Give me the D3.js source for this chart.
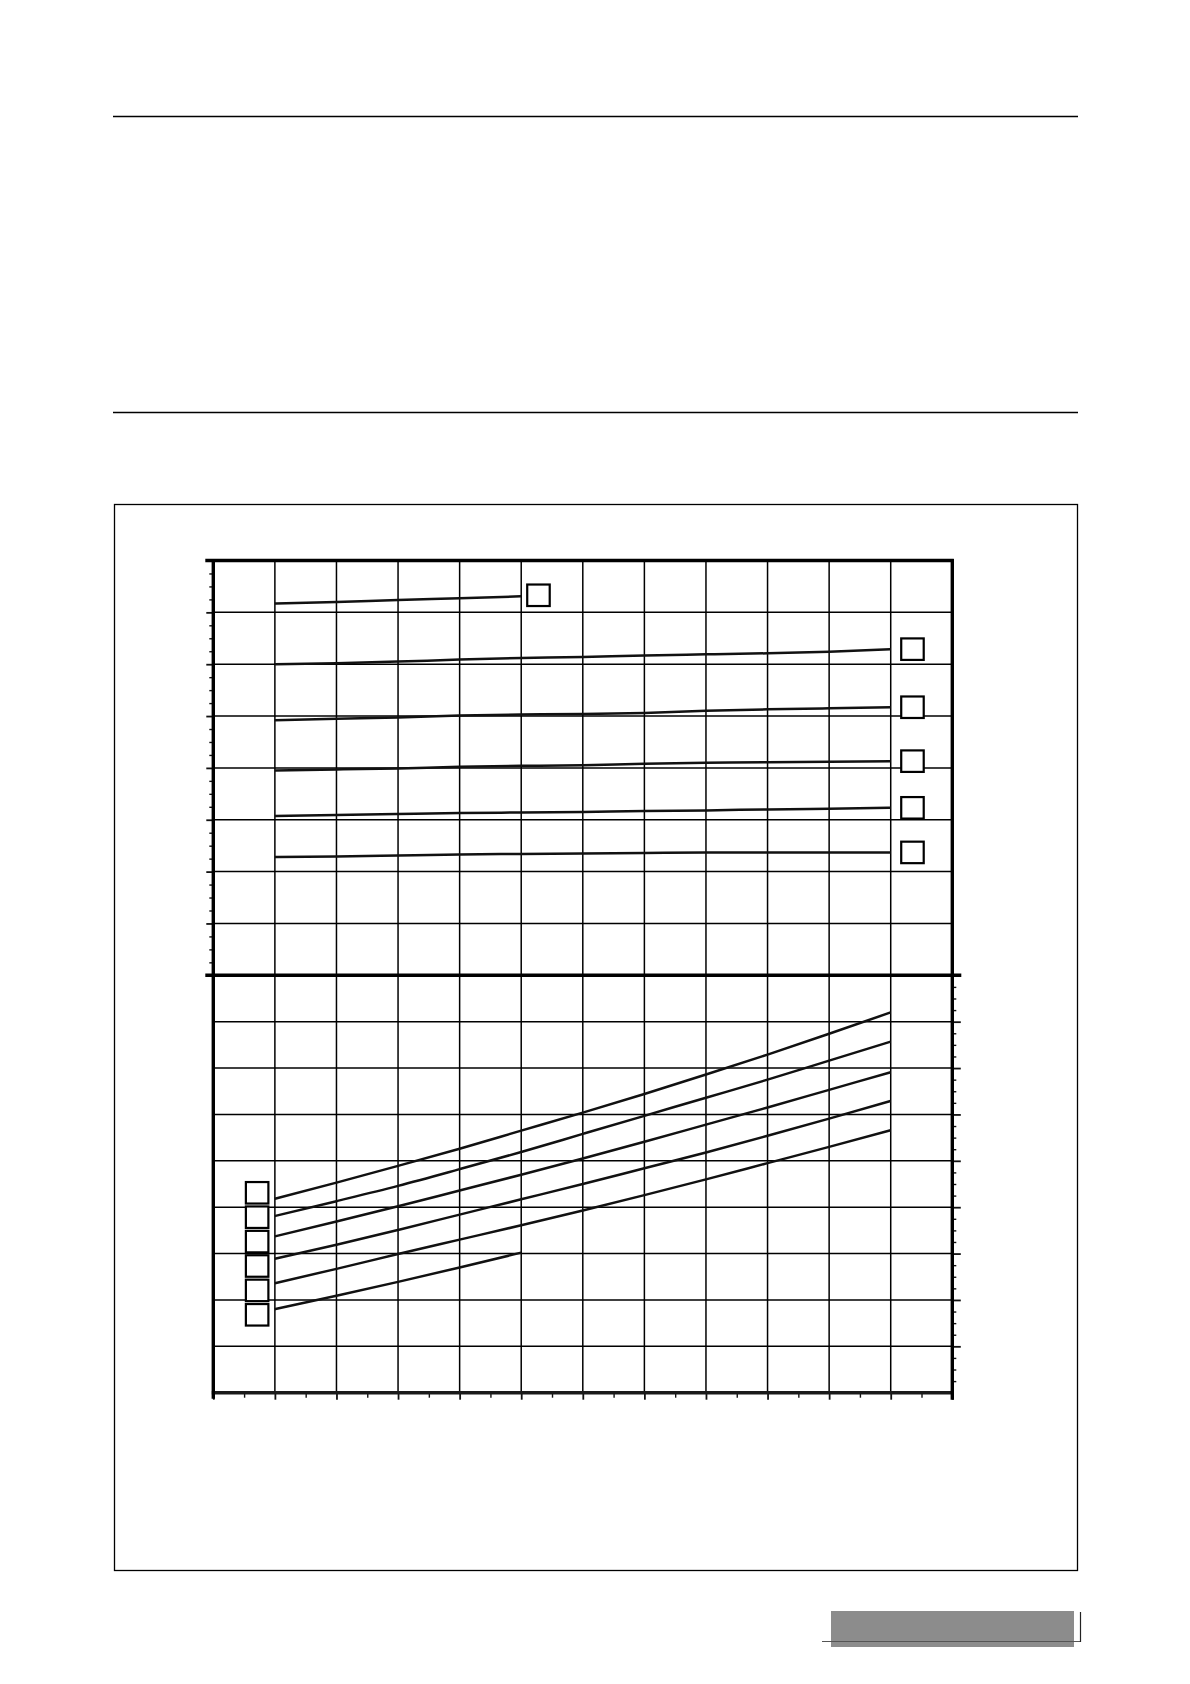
<!DOCTYPE html>
<html>
<head>
<meta charset="utf-8">
<script src="https://cdn.jsdelivr.net/npm/d3@7"></script>
<style>
  body { margin: 0; background: #fff; }
</style>
</head>
<body>
<div id="chart"></div>
<script>
// Page size
var pageWidth = 1190;
var pageHeight = 1684;

// x positions of the points (one per vertical gridline)
var xVals = [1, 2, 3, 4, 5, 6, 7, 8, 9, 10, 11];

// Upper panel curves (short one stops half way)
var upper1 = [71.7, 72.0, 72.4, 72.7, 73.1];
var upper2 = [60.0, 60.2, 60.5, 60.9, 61.2, 61.4, 61.7, 61.9, 62.1, 62.4, 62.9];
var upper3 = [49.2, 49.5, 49.7, 50.1, 50.3, 50.4, 50.6, 51.0, 51.3, 51.5, 51.7];
var upper4 = [39.5, 39.7, 39.9, 40.2, 40.4, 40.5, 40.8, 41.0, 41.1, 41.2, 41.3];
var upper5 = [30.7, 30.9, 31.1, 31.3, 31.4, 31.5, 31.7, 31.8, 32.0, 32.1, 32.3];
var upper6 = [22.8, 22.9, 23.1, 23.3, 23.4, 23.5, 23.6, 23.7, 23.7, 23.7, 23.7];

// Lower panel curves
var lower1 = [41.8, 45.3, 48.9, 52.6, 56.5, 60.4, 64.4, 68.6, 72.9, 77.4, 82.0];
var lower2 = [38.1, 41.3, 44.6, 48.2, 51.9, 55.8, 59.7, 63.6, 67.5, 71.6, 75.7];
var lower3 = [33.7, 36.9, 40.2, 43.6, 47.0, 50.5, 54.1, 57.8, 61.5, 65.3, 69.1];
var lower4 = [28.9, 31.9, 35.1, 38.4, 41.7, 45.0, 48.4, 51.8, 55.4, 59.1, 62.9];
var lower5 = [23.6, 26.7, 29.9, 33.0, 36.1, 39.3, 42.6, 46.0, 49.5, 53.0, 56.6];
var lower6 = [18.0, 20.9, 23.9, 27.0, 30.2];

var upperSeries = [upper1, upper2, upper3, upper4, upper5, upper6];
var lowerSeries = [lower1, lower2, lower3, lower4, lower5, lower6];

// Axis domains
var xDomain = [0, 12];
var upperDomain = [0, 80];
var lowerDomain = [0, 90];

var svg = d3.select("#chart")
    .append("svg")
    .attr("width", pageWidth)
    .attr("height", pageHeight);

// Page furniture: two rules, the frame and the footer tab
svg.append("line")
    .attr("x1", 113).attr("x2", 1078)
    .attr("y1", 116.5).attr("y2", 116.5)
    .attr("stroke", "#000").attr("stroke-width", 1.4);
svg.append("line")
    .attr("x1", 113).attr("x2", 1078)
    .attr("y1", 412.5).attr("y2", 412.5)
    .attr("stroke", "#000").attr("stroke-width", 1.4);
svg.append("rect")
    .attr("x", 114.5).attr("y", 504.5)
    .attr("width", 963).attr("height", 1066)
    .attr("fill", "none").attr("stroke", "#000").attr("stroke-width", 1.3);

svg.append("rect")
    .attr("x", 831).attr("y", 1611)
    .attr("width", 243).attr("height", 36)
    .attr("fill", "#8c8c8c");
svg.append("line")
    .attr("x1", 822).attr("x2", 1080.5)
    .attr("y1", 1641.5).attr("y2", 1641.5)
    .attr("stroke", "#555").attr("stroke-width", 1);
svg.append("line")
    .attr("x1", 1080.5).attr("x2", 1080.5)
    .attr("y1", 1612).attr("y2", 1642)
    .attr("stroke", "#222").attr("stroke-width", 1.2);

// Scales
var x = d3.scaleLinear().domain(xDomain).range([213.3, 952.3]);
var yUp = d3.scaleLinear().domain(upperDomain).range([975.3, 560.5]);
var yLo = d3.scaleLinear().domain(lowerDomain).range([1392.7, 975.3]);

var chart = svg.append("g");

// Gridlines
var gridX = d3.range(1, 12);
chart.selectAll(".vgrid")
    .data(gridX)
    .enter()
    .append("line")
    .attr("x1", d => x(d)).attr("x2", d => x(d))
    .attr("y1", yUp(80)).attr("y2", yLo(0))
    .attr("stroke", "#000").attr("stroke-width", 1.5);

chart.selectAll(".hgridUp")
    .data(d3.range(10, 80, 10))
    .enter()
    .append("line")
    .attr("x1", x(0)).attr("x2", x(12))
    .attr("y1", d => yUp(d)).attr("y2", d => yUp(d))
    .attr("stroke", "#000").attr("stroke-width", 1.5);

chart.selectAll(".hgridLo")
    .data(d3.range(10, 90, 10))
    .enter()
    .append("line")
    .attr("x1", x(0)).attr("x2", x(12))
    .attr("y1", d => yLo(d)).attr("y2", d => yLo(d))
    .attr("stroke", "#000").attr("stroke-width", 1.5);

// Left axis ticks (upper panel only)
var leftMinor = d3.axisLeft(yUp)
    .tickValues(d3.range(0, 80.1, 2.5).filter(v => v % 10 !== 0))
    .tickSize(4).tickFormat("");
var leftMajor = d3.axisLeft(yUp)
    .tickValues(d3.range(10, 80, 10))
    .tickSize(7).tickFormat("");
chart.append("g").attr("transform", `translate(${x(0)},0)`).call(leftMinor);
chart.append("g").attr("class", "major").attr("transform", `translate(${x(0)},0)`).call(leftMajor);

// Right axis ticks (lower panel only)
var rightMinor = d3.axisRight(yLo)
    .tickValues(d3.range(0, 90.1, 2.5).filter(v => v % 10 !== 0))
    .tickSize(4).tickFormat("");
var rightMajor = d3.axisRight(yLo)
    .tickValues(d3.range(10, 90, 10))
    .tickSize(8.5).tickFormat("");
chart.append("g").attr("transform", `translate(${x(12)},0)`).call(rightMinor);
chart.append("g").attr("class", "major").attr("transform", `translate(${x(12)},0)`).call(rightMajor);

// Bottom axis ticks
var bottomMinor = d3.axisBottom(x)
    .tickValues(d3.range(0.5, 12, 1))
    .tickSize(5).tickFormat("");
var bottomMajor = d3.axisBottom(x)
    .tickValues(d3.range(0, 13, 1))
    .tickSize(7).tickFormat("");
chart.append("g").attr("transform", `translate(0,${yLo(0)})`).call(bottomMinor);
chart.append("g").attr("class", "major").attr("transform", `translate(0,${yLo(0)})`).call(bottomMajor);

chart.selectAll(".domain").remove();
chart.selectAll(".tick line").attr("stroke", "#111").attr("stroke-width", 1.4);
chart.selectAll(".major .tick line").attr("stroke-width", 1.8);

// Frame of the plot: heavy borders and the heavy split line
chart.append("line")
    .attr("x1", x(0) - 8).attr("x2", x(12) + 1.5)
    .attr("y1", yUp(80)).attr("y2", yUp(80))
    .attr("stroke", "#000").attr("stroke-width", 3.4);
chart.append("line")
    .attr("x1", x(0) - 8).attr("x2", x(12) + 9)
    .attr("y1", yLo(90)).attr("y2", yLo(90))
    .attr("stroke", "#000").attr("stroke-width", 3.4);
chart.append("line")
    .attr("x1", x(0) - 1.5).attr("x2", x(12) + 1.5)
    .attr("y1", yLo(0)).attr("y2", yLo(0))
    .attr("stroke", "#1a1a1a").attr("stroke-width", 3.4);
chart.append("line")
    .attr("x1", x(0)).attr("x2", x(0))
    .attr("y1", yUp(80) - 1.5).attr("y2", yLo(0) + 6)
    .attr("stroke", "#000").attr("stroke-width", 3.4);
chart.append("line")
    .attr("x1", x(12)).attr("x2", x(12))
    .attr("y1", yUp(80) - 1.5).attr("y2", yLo(0) + 7)
    .attr("stroke", "#000").attr("stroke-width", 3.4);

// Curves
var lineUp = d3.line().x((d, i) => x(xVals[i])).y(d => yUp(d)).curve(d3.curveMonotoneX);
var lineLo = d3.line().x((d, i) => x(xVals[i])).y(d => yLo(d)).curve(d3.curveMonotoneX);

chart.selectAll(".curveUp")
    .data(upperSeries)
    .enter()
    .append("path")
    .attr("d", lineUp)
    .attr("fill", "none")
    .attr("stroke", "#111")
    .attr("stroke-width", 2.5);

chart.selectAll(".curveLo")
    .data(lowerSeries)
    .enter()
    .append("path")
    .attr("d", lineLo)
    .attr("fill", "none")
    .attr("stroke", "#111")
    .attr("stroke-width", 2.5);

// Empty label boxes (curve labels were blank in the source)
var boxW = 22.5;
var boxH = 21.5;

// Upper panel: box just right of each curve end
chart.selectAll(".boxUp")
    .data(upperSeries)
    .enter()
    .append("rect")
    .attr("x", d => x(xVals[d.length - 1]) + (d.length < xVals.length ? 6 : 10.5))
    .attr("y", d => yUp(d[d.length - 1]) - boxH / 2 - (d.length < xVals.length ? 1 : 0))
    .attr("width", boxW)
    .attr("height", boxH)
    .attr("fill", "#fff")
    .attr("stroke", "#000")
    .attr("stroke-width", 2.2);

// Lower panel: stacked boxes left of the curve starts
var startMean = d3.mean(lowerSeries, d => yLo(d[0]));
var boxStep = 24.4;
chart.selectAll(".boxLo")
    .data(lowerSeries)
    .enter()
    .append("rect")
    .attr("x", x(xVals[0]) - 29)
    .attr("y", (d, i) => startMean + 3.4 + (i - 2.5) * boxStep - boxH / 2)
    .attr("width", boxW)
    .attr("height", boxH)
    .attr("fill", "#fff")
    .attr("stroke", "#000")
    .attr("stroke-width", 2.2);
</script>
</body>
</html>
